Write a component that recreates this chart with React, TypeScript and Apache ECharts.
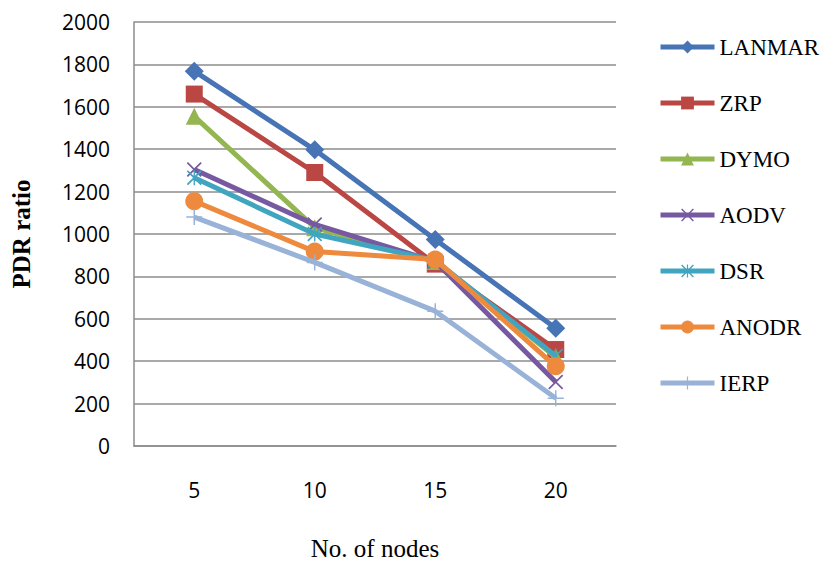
import React, { useEffect, useRef } from "react";
import * as echarts from "echarts";

const categories = ["5", "10", "15", "20"];
const seriesNames = ["LANMAR", "ZRP", "DYMO", "AODV", "DSR", "ANODR", "IERP"];
const lanmar = [1768, 1397, 974, 555];
const zrp = [1660, 1290, 858, 455];
const dymo = [1555, 1030, 870, 420];
const aodv = [1304, 1045, 870, 302];
const dsr = [1265, 1000, 875, 425];
const anodr = [1155, 917, 880, 376];
const ierp = [1080, 866, 636, 225];
const yTicks = { min: 0, max: 2000, interval: 200 };

const colors = ["#4674B5", "#BA4744", "#93B650", "#7659A0", "#41A5C0", "#EE8A3E", "#98B2D8"];

const X_PATH =
  "path://M0,1.6 L1.6,0 L10,8.4 L18.4,0 L20,1.6 L11.6,10 L20,18.4 L18.4,20 L10,11.6 L1.6,20 L0,18.4 L8.4,10 Z";
const STAR_PATH =
  "path://M0,1.6 L1.6,0 L10,8.4 L18.4,0 L20,1.6 L11.6,10 L20,18.4 L18.4,20 L10,11.6 L1.6,20 L0,18.4 L8.4,10 Z M9.1,0 L10.9,0 L10.9,20 L9.1,20 Z";
const PLUS_PATH =
  "path://M9.1,0 L10.9,0 L10.9,9.1 L20,9.1 L20,10.9 L10.9,10.9 L10.9,20 L9.1,20 L9.1,10.9 L0,10.9 L0,9.1 L9.1,9.1 Z";

const symbols = ["diamond", "rect", "triangle", X_PATH, STAR_PATH, "circle", PLUS_PATH];
const symbolSizes = [19, 17, 17, 15, 15, 18, 16];

export default function App() {
  const ref = useRef<HTMLDivElement>(null);
  useEffect(() => {
    if (!ref.current) return;
    const chart = echarts.init(ref.current, undefined, { renderer: "svg" });
    const data = [lanmar, zrp, dymo, aodv, dsr, anodr, ierp];
    chart.setOption({
      animation: false,
      color: colors,
      grid: { left: 134, width: 482, top: 22, height: 430, containLabel: false },
      legend: {
        orient: "vertical",
        left: 658,
        top: 35,
        padding: 0,
        itemWidth: 54,
        itemHeight: 16,
        itemGap: 32,
        lineStyle: { width: 5 },
        textStyle: {
          fontFamily: "Liberation Serif",
          fontSize: 23,
          color: "#000",
          padding: [0, 0, 0, 0],
          lineHeight: 24,
        },
        data: seriesNames,
      },
      xAxis: {
        type: "category",
        data: categories,
        boundaryGap: true,
        axisLine: { show: true, lineStyle: { color: "#8c8c8c", width: 1.5 } },
        axisTick: { show: false },
        axisLabel: {
          margin: 33,
          fontFamily: "Open Sans",
          fontSize: 21,
          color: "#000",
        },
        name: "No. of nodes",
        nameLocation: "middle",
        nameGap: 90,
        nameTextStyle: { fontFamily: "Liberation Serif", fontSize: 25, color: "#000" },
      },
      yAxis: {
        type: "value",
        min: yTicks.min,
        max: yTicks.max,
        interval: yTicks.interval,
        axisLine: { show: true, lineStyle: { color: "#8c8c8c", width: 1.5 } },
        axisTick: { show: false },
        splitLine: { show: true, lineStyle: { color: "#8c8c8c", width: 1.5 } },
        axisLabel: {
          margin: 24,
          fontFamily: "Open Sans",
          fontSize: 21,
          color: "#000",
          formatter: (v: number) => String(v),
        },
        name: "PDR ratio",
        nameLocation: "middle",
        nameGap: 100,
        nameTextStyle: {
          fontFamily: "Liberation Serif",
          fontSize: 25,
          fontWeight: "bold",
          color: "#000",
        },
      },
      series: seriesNames.map((name, i) => ({
        name,
        type: "line",
        data: data[i],
        symbol: symbols[i],
        symbolSize: symbolSizes[i],
        showAllSymbol: true,
        lineStyle: { width: 5, color: colors[i] },
        itemStyle: { color: colors[i] },
        z: 2 + i,
      })),
    });
    return () => chart.dispose();
  }, []);
  return (
    <div
      ref={ref}
      style={{ position: "absolute", left: 0, top: 0, width: 821, height: 566 }}
    />
  );
}
